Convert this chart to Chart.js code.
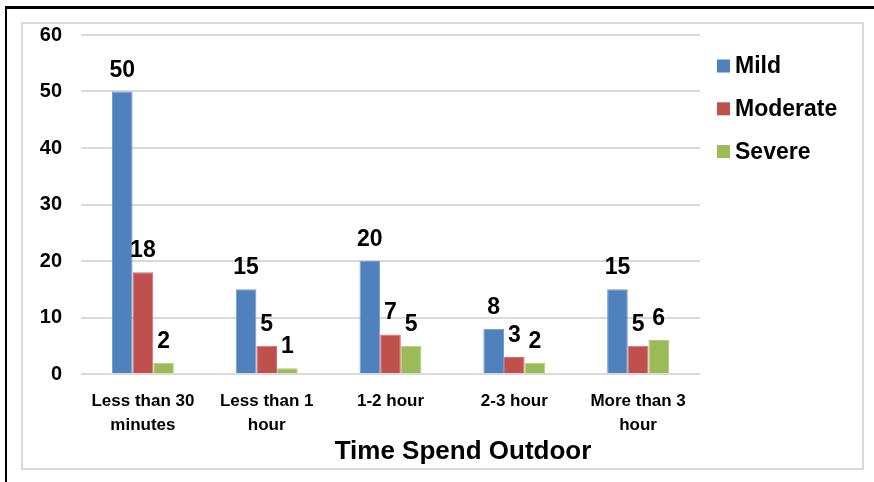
<!DOCTYPE html>
<html>
<head>
<meta charset="utf-8">
<script src="https://cdn.jsdelivr.net/npm/chart.js@4.4.1/dist/chart.umd.min.js"></script>
<style>
    html, body { margin: 0; padding: 0; background: #fff; }
    body { width: 874px; height: 482px; position: relative; overflow: hidden; }
    .frame-top { position: absolute; left: 5px; top: 6px; width: 869px; height: 3px; background: #000; }
    .frame-left { position: absolute; left: 5px; top: 6px; width: 2px; height: 476px; background: #000; }
    .box { position: absolute; left: 21px; top: 22px; width: 843px; height: 448px; border: 2px solid #d9d9d9; box-sizing: border-box; }
    #outdoorChart { position: absolute; left: 0; top: 0; }
</style>
</head>
<body>
<div class="frame-top"></div>
<div class="frame-left"></div>
<div class="box"></div>
<canvas id="outdoorChart" width="874" height="482"></canvas>

<script>
const categories = [
    ['Less than 30', 'minutes'],
    ['Less than 1', 'hour'],
    '1-2 hour',
    '2-3 hour',
    ['More than 3', 'hour']
];
const mildValues = [50, 15, 20, 8, 15];
const moderateValues = [18, 5, 7, 3, 5];
const severeValues = [2, 1, 5, 2, 6];
const yTicks = [0, 10, 20, 30, 40, 50, 60];
const axisTitle = 'Time Spend Outdoor';

const FONT = "'Liberation Sans', Arial, sans-serif";

// value labels above each bar
const barValues = {
    id: 'barValues',
    afterDatasetsDraw(chart) {
        const ctx = chart.ctx;
        ctx.save();
        ctx.font = 'bold 23px ' + FONT;
        ctx.fillStyle = '#000';
        ctx.textAlign = 'center';
        ctx.textBaseline = 'alphabetic';
        chart.data.datasets.forEach((ds, i) => {
            chart.getDatasetMeta(i).data.forEach((bar, j) => {
                ctx.fillText(ds.data[j], bar.x, bar.y - 15);
            });
        });
        ctx.restore();
    }
};

// legend on the right and the x axis title
const sideLegend = {
    id: 'sideLegend',
    afterDraw(chart) {
        const ctx = chart.ctx;
        ctx.save();
        ctx.font = 'bold 23px ' + FONT;
        ctx.textAlign = 'left';
        ctx.textBaseline = 'middle';
        chart.data.datasets.forEach((ds, i) => {
            const cy = 66 + i * 42.8;
            ctx.fillStyle = ds.backgroundColor;
            ctx.fillRect(717, cy - 6.5, 13, 13);
            ctx.fillStyle = '#000';
            ctx.fillText(ds.label, 735, cy + 1);
        });
        ctx.font = 'bold 26px ' + FONT;
        ctx.textAlign = 'center';
        ctx.textBaseline = 'alphabetic';
        ctx.fillText(axisTitle, 463, 459);
        ctx.restore();
    }
};

new Chart(document.getElementById('outdoorChart'), {
    type: 'bar',
    data: {
        labels: categories,
        datasets: [
            { label: 'Mild', data: mildValues, backgroundColor: '#4F81BD', borderColor: '#6f98cc', borderWidth: 1 },
            { label: 'Moderate', data: moderateValues, backgroundColor: '#C0504D', borderColor: '#cf716e', borderWidth: 1 },
            { label: 'Severe', data: severeValues, backgroundColor: '#9BBB59', borderColor: '#b1cb7c', borderWidth: 1 }
        ]
    },
    options: {
        responsive: false,
        animation: false,
        devicePixelRatio: 1,
        layout: { padding: { left: 21, right: 174, top: 35, bottom: 16 } },
        datasets: { bar: { barPercentage: 1, categoryPercentage: 0.5 } },
        plugins: {
            legend: { display: false },
            tooltip: { enabled: false }
        },
        scales: {
            x: {
                grid: { display: false, drawTicks: false },
                border: { display: false },
                ticks: {
                    autoSkip: false,
                    maxRotation: 0,
                    padding: 16,
                    color: '#000',
                    font: { family: FONT, size: 17, weight: 'bold', lineHeight: '23.5px' }
                },
                afterFit(scale) { scale.height = 92; }
            },
            y: {
                min: 0,
                max: 60,
                afterBuildTicks(scale) { scale.ticks = yTicks.map(v => ({ value: v })); },
                grid: { color: '#d9d9d9', lineWidth: 2, drawTicks: false },
                border: { display: false },
                ticks: {
                    padding: 19,
                    color: '#000',
                    font: { family: FONT, size: 20, weight: 'bold' }
                },
                afterFit(scale) { scale.width = 60; }
            }
        }
    },
    plugins: [barValues, sideLegend]
});
</script>
</body>
</html>
